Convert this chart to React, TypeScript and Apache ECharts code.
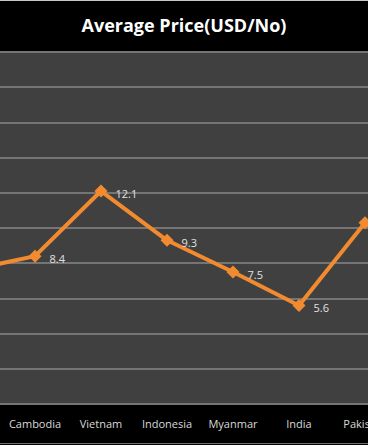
import React, { useEffect, useRef } from "react";
import * as echarts from "echarts";

const categories = ["Thailand", "Cambodia", "Vietnam", "Indonesia", "Myanmar", "India", "Pakistan"];
const prices = [7.6, 8.4, 12.1, 9.3, 7.5, 5.6, 10.3];
const titleText = "Average Price(USD/No)";

export default function App() {
  const ref = useRef<HTMLDivElement>(null);
  useEffect(() => {
    if (!ref.current) return;
    const chart = echarts.init(ref.current, null, { renderer: "svg" });
    chart.setOption({
      animation: false,
      backgroundColor: "#000000",
      title: {
        text: titleText,
        left: "center",
        top: 11,
        textStyle: {
          color: "#ffffff",
          fontFamily: "Open Sans",
          fontWeight: "bold",
          fontSize: 18,
        },
      },
      graphic: [
        { type: "rect", shape: { x: 0, y: 0, width: 568, height: 1 }, style: { fill: "#c8c8c8" } },
        { type: "rect", shape: { x: 0, y: 443, width: 568, height: 1 }, style: { fill: "#707070" } },
      ],
      grid: {
        left: 36,
        top: 52,
        width: 462,
        height: 352,
        show: true,
        backgroundColor: "#404040",
        borderWidth: 0,
      },
      xAxis: {
        type: "category",
        data: categories,
        boundaryGap: true,
        axisLine: { show: false },
        axisTick: { show: false },
        axisLabel: {
          color: "#d9d9d9",
          fontFamily: "Open Sans",
          fontSize: 11,
          margin: 14,
          interval: 0,
          formatter: (v: string, i: number) => (i === 0 ? "" : v),
        },
      },
      yAxis: {
        type: "value",
        min: 0,
        max: 20,
        interval: 2,
        axisLabel: { show: false },
        axisLine: { show: false },
        axisTick: { show: false },
        splitLine: { show: true, lineStyle: { color: "#757575", width: 2 } },
      },
      series: [
        {
          type: "line",
          data: prices,
          symbol: "diamond",
          symbolSize: 13,
          lineStyle: { color: "#f28b30", width: 4 },
          itemStyle: { color: "#f28b30" },
          label: {
            show: true,
            position: "right",
            distance: 8,
            offset: [0, 2],
            color: "#e0e0e0",
            fontFamily: "Open Sans",
            fontSize: 11,
            formatter: (p: any) => (p.dataIndex === 0 ? "" : String(p.value)),
          },
        },
      ],
    });
    return () => chart.dispose();
  }, []);
  return (
    <div
      style={{
        position: "fixed",
        left: 0,
        top: 0,
        width: 368,
        height: 445,
        overflow: "hidden",
        background: "#000",
      }}
    >
      <div ref={ref} style={{ position: "absolute", left: -100, top: 0, width: 568, height: 445 }} />
    </div>
  );
}
